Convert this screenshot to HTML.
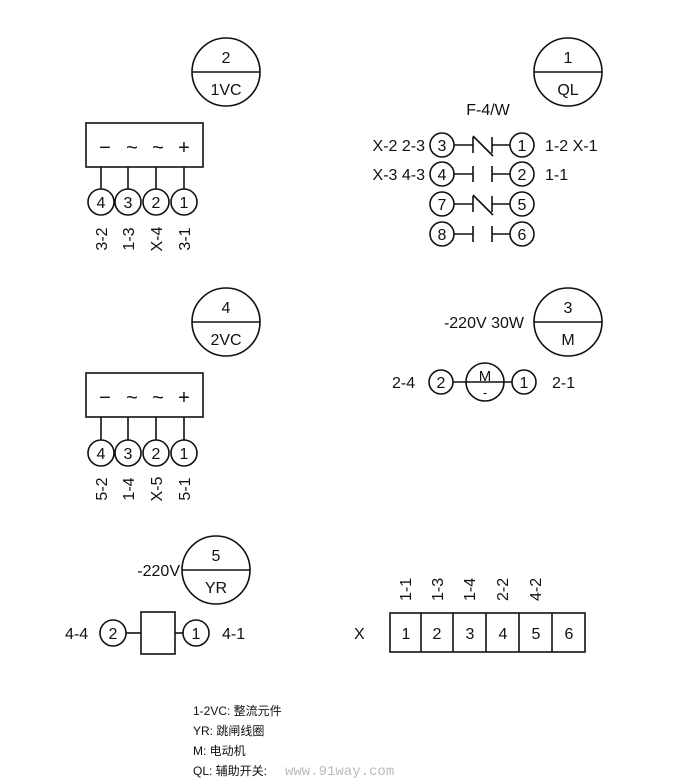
<!DOCTYPE html>
<html><head><meta charset="utf-8"><style>
html,body{margin:0;padding:0;background:#fff}
svg{display:block}
text{font-family:"Liberation Sans",Arial,sans-serif;fill:#111}
</style></head><body>
<svg width="700" height="782" viewBox="0 0 700 782" xmlns="http://www.w3.org/2000/svg">
<g stroke="#111" stroke-width="1.6" fill="none">
<circle cx="226" cy="72" r="34"/><line x1="192" y1="72" x2="260" y2="72"/>
<rect x="86" y="123" width="117" height="44"/>
<line x1="101" y1="167" x2="101" y2="189"/><line x1="128" y1="167" x2="128" y2="189"/><line x1="156" y1="167" x2="156" y2="189"/><line x1="184" y1="167" x2="184" y2="189"/>
<circle cx="101" cy="202" r="13"/><circle cx="128" cy="202" r="13"/><circle cx="156" cy="202" r="13"/><circle cx="184" cy="202" r="13"/>
<circle cx="226" cy="322" r="34"/><line x1="192" y1="322" x2="260" y2="322"/>
<rect x="86" y="373" width="117" height="44"/>
<line x1="101" y1="417" x2="101" y2="440"/><line x1="128" y1="417" x2="128" y2="440"/><line x1="156" y1="417" x2="156" y2="440"/><line x1="184" y1="417" x2="184" y2="440"/>
<circle cx="101" cy="453" r="13"/><circle cx="128" cy="453" r="13"/><circle cx="156" cy="453" r="13"/><circle cx="184" cy="453" r="13"/>
<circle cx="568" cy="72" r="34"/><line x1="534" y1="72" x2="602" y2="72"/>
<circle cx="442" cy="145" r="12"/><circle cx="522" cy="145" r="12"/>
<circle cx="442" cy="174" r="12"/><circle cx="522" cy="174" r="12"/>
<circle cx="442" cy="204" r="12"/><circle cx="522" cy="204" r="12"/>
<circle cx="442" cy="234" r="12"/><circle cx="522" cy="234" r="12"/>
<path d="M454 145H473M473 137V153M492 137V153M492 145H510M473 136L493 156"/>
<path d="M454 174H473M473 166V182M492 166V182M492 174H510"/>
<path d="M454 204H473M473 196V212M492 196V212M492 204H510M473 195L493 215"/>
<path d="M454 234H473M473 226V242M492 226V242M492 234H510"/>
<circle cx="568" cy="322" r="34"/><line x1="534" y1="322" x2="602" y2="322"/>
<circle cx="441" cy="382" r="12"/><circle cx="485" cy="382" r="19"/><circle cx="524" cy="382" r="12"/>
<line x1="453" y1="382" x2="512" y2="382"/>
<circle cx="216" cy="570" r="34"/><line x1="182" y1="570" x2="250" y2="570"/>
<circle cx="113" cy="633" r="13"/><circle cx="196" cy="633" r="13"/>
<rect x="141" y="612" width="34" height="42"/>
<line x1="126" y1="633" x2="141" y2="633"/><line x1="175" y1="633" x2="183" y2="633"/>
<rect x="390" y="613" width="195" height="39"/>
<line x1="421" y1="613" x2="421" y2="652"/><line x1="453" y1="613" x2="453" y2="652"/><line x1="486" y1="613" x2="486" y2="652"/><line x1="519" y1="613" x2="519" y2="652"/><line x1="552" y1="613" x2="552" y2="652"/>
</g>
<g font-size="16" text-anchor="middle">
<text x="226" y="63">2</text><text x="226" y="95">1VC</text>
<g font-size="20"><text x="105" y="154">−</text><text x="132" y="154">~</text><text x="158" y="154">~</text><text x="184" y="154">+</text>
<text x="105" y="404">−</text><text x="132" y="404">~</text><text x="158" y="404">~</text><text x="184" y="404">+</text></g>
<text x="101" y="208">4</text><text x="128" y="208">3</text><text x="156" y="208">2</text><text x="184" y="208">1</text>
<text transform="translate(107,239) rotate(-90)">3-2</text><text transform="translate(134,239) rotate(-90)">1-3</text><text transform="translate(162,239) rotate(-90)">X-4</text><text transform="translate(190,239) rotate(-90)">3-1</text>
<text x="226" y="313">4</text><text x="226" y="345">2VC</text>
<text x="101" y="459">4</text><text x="128" y="459">3</text><text x="156" y="459">2</text><text x="184" y="459">1</text>
<text transform="translate(107,489) rotate(-90)">5-2</text><text transform="translate(134,489) rotate(-90)">1-4</text><text transform="translate(162,489) rotate(-90)">X-5</text><text transform="translate(190,489) rotate(-90)">5-1</text>
<text x="568" y="63">1</text><text x="568" y="95">QL</text>
<text x="488" y="115">F-4/W</text>
<text x="442" y="151">3</text><text x="522" y="151">1</text>
<text x="442" y="180">4</text><text x="522" y="180">2</text>
<text x="442" y="210">7</text><text x="522" y="210">5</text>
<text x="442" y="240">8</text><text x="522" y="240">6</text>
<text x="568" y="313">3</text><text x="568" y="345">M</text>
<text x="441" y="388">2</text><text x="524" y="388">1</text>
<text x="485" y="381" font-size="15">M</text><text x="485" y="397" font-size="13">-</text>
<text x="216" y="561">5</text><text x="216" y="593">YR</text>
<text x="113" y="639">2</text><text x="196" y="639">1</text>
<text x="406" y="639">1</text><text x="437" y="639">2</text><text x="470" y="639">3</text><text x="503" y="639">4</text><text x="536" y="639">5</text><text x="569" y="639">6</text>
<text transform="translate(411,601) rotate(-90)" text-anchor="start">1-1</text>
<text transform="translate(443,601) rotate(-90)" text-anchor="start">1-3</text>
<text transform="translate(475,601) rotate(-90)" text-anchor="start">1-4</text>
<text transform="translate(508,601) rotate(-90)" text-anchor="start">2-2</text>
<text transform="translate(541,601) rotate(-90)" text-anchor="start">4-2</text>
</g>
<g font-size="16">
<text x="425" y="151" text-anchor="end">X-2  2-3</text>
<text x="425" y="180" text-anchor="end">X-3  4-3</text>
<text x="545" y="151">1-2   X-1</text>
<text x="545" y="180">1-1</text>
<text x="524" y="328" text-anchor="end">-220V  30W</text>
<text x="392" y="388">2-4</text><text x="552" y="388">2-1</text>
<text x="180" y="576" text-anchor="end">-220V</text>
<text x="65" y="639">4-4</text><text x="222" y="639">4-1</text>
<text x="354" y="639">X</text>
</g>
<g font-size="12" style="font-family:'Liberation Serif','Noto Serif CJK SC',serif">
<text x="193" y="715">1-2VC: 整流元件</text>
<text x="193" y="735">YR: 跳闸线圈</text>
<text x="193" y="755">M: 电动机</text>
<text x="193" y="775">QL: 辅助开关:</text>
</g>
<text x="285" y="775" font-size="14" style="font-family:'Liberation Mono',monospace;fill:#bbb">www.91way.com</text>
</svg>
</body></html>
